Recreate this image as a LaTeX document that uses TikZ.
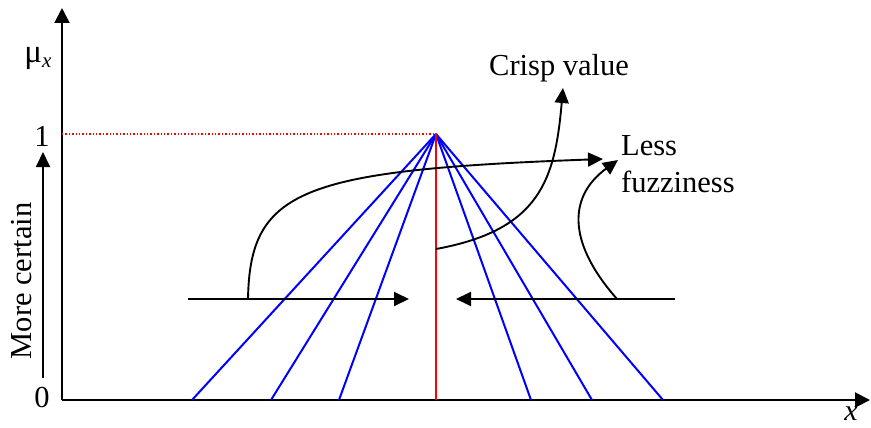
\documentclass[tikz,border=0pt]{standalone}
\usepackage{fontspec}
\setmainfont{Liberation Serif}
\usetikzlibrary{arrows.meta}
\begin{document}
\begin{tikzpicture}[x=1pt,y=-1pt,
  axis/.style={line width=2pt,-{Triangle[length=15pt,width=15pt]}},
  arr/.style={line width=1.9pt,-{Triangle[length=15pt,width=14pt]}},
  blueline/.style={blue,line width=2pt},
  redline/.style={red,line width=2pt},
  lbl/.style={inner sep=0pt,font=\fontsize{30.5}{34}\selectfont}]
\useasboundingbox (0,0) rectangle (871,428);
% axes
\coordinate (O) at (62,400);
\coordinate (ytip) at (62,8);
\coordinate (xtip) at (870,400);
\draw[axis] (O) -- (ytip);
\draw[axis] (O) -- (xtip);
% peak and bases
\coordinate (P) at (436,134);
\coordinate (Y1) at (62,134);
\coordinate (R) at (436,400);
\foreach \n/\x in {b1/192,b2/271,b3/339,b4/531,b5/592,b6/663}{
  \coordinate (\n) at (\x,400);
  \draw[blueline] (P) -- (\n);
}
\draw[red,line width=1.4pt,dotted] (Y1) -- (P);
\draw[redline] (P) -- (R);
% labels
\node[lbl] (mu) at (38,58) {{\fontsize{33}{34}\selectfont μ}\raisebox{-5pt}{\fontsize{21}{22}\selectfont\itshape x}};
\node[lbl] (one) at (42,136) {1};
\node[lbl] (zero) at (42,398) {0};
\node[lbl,font=\fontsize{30}{34}\selectfont\itshape] (xl) at (851,414) {x};
\node[lbl,rotate=90] (mc) at (22,281) {More certain};
\coordinate (mcs) at (43,378);
\coordinate (mct) at (43,152);
\draw[arr] (mcs) -- (mct);
% horizontal arrows
\coordinate (la) at (188,299);
\coordinate (lt) at (409,299);
\coordinate (ra) at (675,299);
\coordinate (rt) at (456,299);
\draw[arr] (la) -- (lt);
\draw[arr] (ra) -- (rt);
% texts
\node[lbl,anchor=west] (crisp) at (489,68) {Crisp value};
\node[lbl,anchor=west] (less) at (621,146) {Less};
\node[lbl,anchor=west] (fuzz) at (621,182) {fuzziness};
% curves
\coordinate (c1s) at (248,299);
\coordinate (c1t) at (603,159);
\draw[arr] (c1s) .. controls (250,190) and (300,170) .. (c1t);
\coordinate (c2s) at (436,249);
\coordinate (c2t) at (563,88);
\draw[arr] (c2s) .. controls (540,230) and (555,180) .. (c2t);
\coordinate (c3s) at (617,299);
\coordinate (c3t) at (618,160);
\draw[arr] (c3s) .. controls (565,240) and (570,195) .. (c3t);
\end{tikzpicture}
\end{document}
